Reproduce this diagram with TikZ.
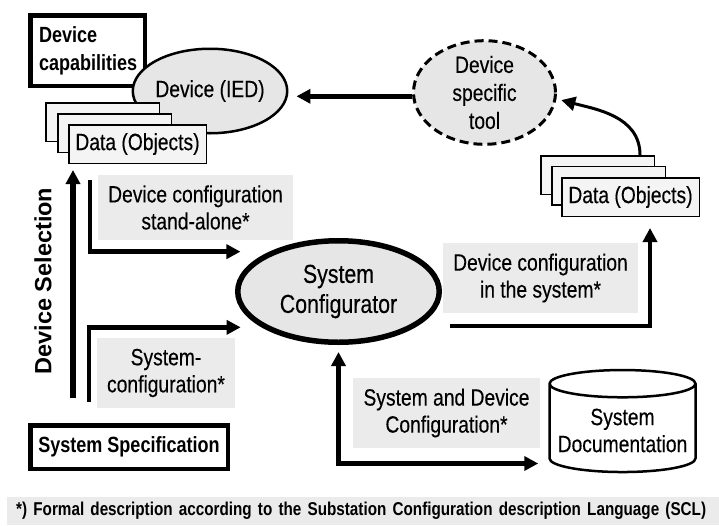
\documentclass[tikz,border=0pt]{standalone}
\usepackage{fontspec}
\setmainfont{Liberation Sans}[FakeStretch=0.82, UprightFeatures={FakeBold=0.3}]
\newfontfamily\widefont{Liberation Sans}
\usetikzlibrary{shapes.geometric,arrows.meta}

\definecolor{ovalgray}{HTML}{E6E6E6}
\definecolor{labelgray}{HTML}{EBEBEB}
\definecolor{datagray}{HTML}{F4F4F4}

\newcommand{\txtsize}{\fontsize{23.5}{27}\selectfont}
\newcommand{\boldsize}{\bfseries\fontsize{22}{28}\selectfont}

\tikzstyle{thick_box} = [rectangle, draw=black, line width=4.5pt, font=\boldsize, inner sep=0pt]
\tikzstyle{label_box} = [rectangle, fill=labelgray, font=\txtsize, align=center, inner sep=0pt]
\tikzstyle{data_box} = [rectangle, draw=black, line width=1.5pt, fill=datagray, minimum width=113.5pt, minimum height=38.5pt, font=\txtsize, inner sep=0pt]
\tikzstyle{oval} = [ellipse, draw=black, fill=ovalgray, font=\txtsize, align=center, inner sep=0pt]
\tikzstyle{arrow} = [line width=4.5pt,->,>={Triangle[length=14pt,width=14pt]}]

\begin{document}
\begin{tikzpicture}[x=1pt,y=-1pt]
    \useasboundingbox (0,0) rectangle (719,525);
    \node (caps) [thick_box, minimum width=114.5pt, minimum height=70.5pt, text width=97pt, align=left] at (87.5,50.5) {Device\\capabilities};
    \node (ied) [oval, line width=2.5pt, minimum width=113.5pt, minimum height=84.5pt] at (210,91) {Device (IED)};
    \node (dataBackL) [data_box] at (102.5,122) {};
    \node (dataMidL) [data_box] at (114.5,133) {};
    \node (dataL) [data_box, minimum width=137.5pt] at (137.5,144) {Data (Objects)};
    \node (tool) [oval, dash pattern=on 9pt off 5pt, line width=3pt, minimum width=142pt, minimum height=102pt, font=\fontsize{23.5}{28}\selectfont] at (484.5,92.5) {Device\\specific\\tool};
    \node (dataBackR) [data_box] at (597.5,175) {};
    \node (dataMidR) [data_box] at (608.5,185.5) {};
    \node (dataR) [data_box, minimum width=137.5pt] at (630.5,197) {Data (Objects)};
    \node (conf) [oval, line width=5.5pt, minimum width=201.5pt, minimum height=101.5pt, font=\fontsize{26}{30}\selectfont] at (338.5,291.5) {System\\Configurator};
    \node (spec) [thick_box, minimum width=197.5pt, minimum height=43.5pt] at (129,447) {System Specification};
    \node (doc) [cylinder, shape border rotate=90, aspect=0.2, draw=black, line width=2.5pt, minimum width=146pt, minimum height=102pt, align=center, font=\txtsize] at (622.5,430.5) {System\\Documentation};

    % gray labels
    \node (lblStand) [label_box, minimum width=195pt, minimum height=65pt] at (195.5,207.5) {Device configuration\\stand-alone*};
    \node (lblSysconf) [label_box, minimum width=138pt, minimum height=70pt] at (166,373) {System-\\configuration*};
    \node (lblInsys) [label_box, minimum width=195pt, minimum height=70pt] at (540.5,278) {Device configuration\\in the system*};
    \node (lblSysdev) [label_box, minimum width=187pt, minimum height=70pt] at (446.5,413) {System and Device\\Configuration*};
    \node (devsel) [rotate=90, font=\widefont\bfseries\fontsize{23.5}{28}\selectfont] at (43,281) {Device Selection};
    \node (note) [anchor=west, fill=labelgray, minimum height=28pt, text width=760pt, inner xsep=9pt, inner ysep=0pt, align=left, font=\bfseries\fontsize{18.6}{21}\selectfont] at (7,511) {*) Formal description according to the Substation Configuration description Language (SCL)};

    % arrows
    \coordinate (dsStart) at (73,398);
    \coordinate (saStart) at (90,180);
    \coordinate (scStart) at (89,402);
    \coordinate (isStart) at (450,326);
    \draw [arrow, line width=5.5pt, shorten >=6pt] (dsStart) -- (dsStart |- dataL.south);
    \draw [arrow, shorten >=8pt] (tool.183) -- (tool.183 -| ied.east);
    \draw [arrow, line width=3pt, shorten >=5pt] ([xshift=-15pt]dataBackR.north east) to [out=90, in=-15] (tool.-5);
    \draw [arrow, shorten >=29pt] (saStart) |- (conf.150);
    \draw [arrow, shorten >=21pt] (scStart) |- (conf.205);
    \draw [arrow, shorten >=11pt] (isStart) -| ([xshift=-50pt]dataR.south east);
    \draw [arrow, <->, shorten <=7pt, shorten >=10pt] (conf.south) |- ([yshift=-33pt]doc.west);
\end{tikzpicture}
\end{document}
